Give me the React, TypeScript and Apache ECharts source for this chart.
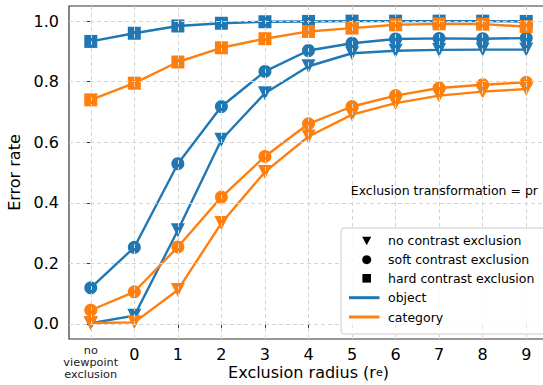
import React, { useEffect, useRef } from "react";
import * as echarts from "echarts";

const xLabels = ["no\nviewpoint\nexclusion", "0", "1", "2", "3", "4", "5", "6", "7", "8", "9"];
const yTicks = [0, 0.2, 0.4, 0.6, 0.8, 1.0];

const objectNo = [0.002, 0.027, 0.309, 0.608, 0.762, 0.851, 0.894, 0.902, 0.905, 0.906, 0.906];
const objectSoft = [0.119, 0.253, 0.529, 0.718, 0.834, 0.903, 0.927, 0.941, 0.943, 0.942, 0.944];
const objectHard = [0.933, 0.960, 0.984, 0.993, 0.998, 0.999, 1.0, 1.0, 1.0, 1.0, 0.999];
const categoryNo = [0.003, 0.005, 0.112, 0.333, 0.502, 0.619, 0.691, 0.729, 0.754, 0.767, 0.776];
const categorySoft = [0.045, 0.106, 0.254, 0.419, 0.553, 0.661, 0.718, 0.754, 0.779, 0.790, 0.798];
const categoryHard = [0.740, 0.795, 0.865, 0.912, 0.942, 0.966, 0.977, 0.988, 0.991, 0.990, 0.982];

const BLUE = "#1f77b4";
const ORANGE = "#ff7f0e";
const FONT = "DejaVu Sans";

const legendRows = [
  { kind: "tri", label: "no contrast exclusion" },
  { kind: "circ", label: "soft contrast exclusion" },
  { kind: "sq", label: "hard contrast exclusion" },
  { kind: "line", color: BLUE, label: "object" },
  { kind: "line", color: ORANGE, label: "category" },
];

function mkSeries(name: string, vals: number[], color: string, symbol: string) {
  const tri = symbol === "triangle";
  return {
    name,
    type: "line",
    data: vals.map((v, i) => [i, v]),
    symbol,
    symbolRotate: tri ? 180 : 0,
    symbolSize: tri ? 14 : 13,
    showAllSymbol: true,
    lineStyle: { color, width: 2.4 },
    itemStyle: { color, borderWidth: 0 },
    z: 3,
  };
}

export default function App() {
  const ref = useRef<HTMLDivElement>(null);
  useEffect(() => {
    if (!ref.current) return;
    const chart = echarts.init(ref.current, undefined, { renderer: "svg" });
    const xIdx = xLabels.map((_, i) => i);
    const gridLineStyle = { color: "#d4d4d4", type: [4, 3], width: 1 };
    const legendX = 341, legendY = 228;
    const rowY = [240.7, 259.7, 278.3, 297.7, 317];
    const mx = 366.7;
    const graphics: any[] = [
      {
        type: "rect",
        shape: { x: legendX, y: legendY, width: 220, height: 106, r: 3 },
        style: { fill: "rgba(255,255,255,0.85)", stroke: "#cccccc", lineWidth: 1 },
        z: 50,
      },
      {
        type: "text",
        x: 538,
        y: 190,
        style: {
          text: "Exclusion transformation = pr",
          fontFamily: FONT,
          fontSize: 12.5,
          fill: "#000",
          align: "right",
          verticalAlign: "middle",
        },
        z: 50,
      },
    ];
    legendRows.forEach((r, i) => {
      const y = rowY[i];
      if (r.kind === "tri") {
        graphics.push({ type: "polygon", shape: { points: [[mx - 4.5, y - 4], [mx + 4.5, y - 4], [mx, y + 4.5]] }, style: { fill: "#000" }, z: 51 });
      } else if (r.kind === "circ") {
        graphics.push({ type: "circle", shape: { cx: mx, cy: y, r: 4.5 }, style: { fill: "#000" }, z: 51 });
      } else if (r.kind === "sq") {
        graphics.push({ type: "rect", shape: { x: mx - 4.3, y: y - 4.3, width: 8.6, height: 8.6 }, style: { fill: "#000" }, z: 51 });
      } else {
        graphics.push({ type: "line", shape: { x1: 349, y1: y, x2: 379.5, y2: y }, style: { stroke: r.color, lineWidth: 3 }, z: 51 });
      }
      graphics.push({
        type: "text",
        x: 388,
        y,
        style: { text: r.label, fontFamily: FONT, fontSize: 12.5, fill: "#000", verticalAlign: "middle" },
        z: 51,
      });
    });

    chart.setOption({
      animation: false,
      backgroundColor: "#fff",
      textStyle: { fontFamily: FONT },
      grid: {
        left: 69,
        top: 6,
        width: 479,
        height: 333,
        outerBoundsMode: "none",
        containLabel: false,
        show: true,
        borderColor: "#333",
        borderWidth: 1.2,
        backgroundColor: "transparent",
      },
      xAxis: {
        type: "value",
        min: -0.5,
        max: 10.5,
        name: "{a|Exclusion radius (r}{b|e}{a|)}",
        nameLocation: "middle",
        nameGap: 27,
        nameMoveOverlap: false,
        nameTextStyle: {
          rich: {
            a: { fontFamily: FONT, fontSize: 16, lineHeight: 12, color: "#000" },
            b: { fontFamily: FONT, fontSize: 11, lineHeight: 4, color: "#000", verticalAlign: "bottom" },
          },
        },
        axisLine: { show: false },
        axisTick: { show: true, customValues: xIdx, length: 4, lineStyle: { color: "#333", width: 1 } },
        splitLine: { show: false },
        axisLabel: {
          customValues: xIdx,
          margin: 5,
          formatter: (v: number) => {
            const lab = xLabels[Math.round(v)];
            return Math.round(v) === 0 ? "{s|" + lab + "}" : "{d|" + lab + "}";
          },
          rich: {
            s: { fontFamily: FONT, fontSize: 11.3, lineHeight: 12, color: "#222" },
            d: { fontFamily: FONT, fontSize: 16, lineHeight: 12, color: "#000", padding: [9, 0, 0, 0] },
          },
        },
      },
      yAxis: {
        type: "value",
        min: -0.05,
        max: 1.05,
        name: "Error rate",
        nameLocation: "middle",
        nameGap: 46,
        nameTextStyle: { fontFamily: FONT, fontSize: 16, color: "#000" },
        axisLine: { show: false },
        axisTick: { show: true, customValues: yTicks, length: 4, lineStyle: { color: "#333", width: 1 } },
        splitLine: { show: false },
        axisLabel: {
          customValues: yTicks,
          margin: 10,
          fontFamily: FONT,
          fontSize: 16,
          color: "#000",
          formatter: (v: number) => v.toFixed(1),
        },
      },
      graphic: graphics,
      series: [
        {
          type: "scatter",
          data: [],
          silent: true,
          z: 1,
          markLine: {
            silent: true,
            symbol: "none",
            label: { show: false },
            lineStyle: gridLineStyle,
            data: [
              ...xIdx.map((i) => ({ xAxis: i })),
              ...yTicks.map((v) => ({ yAxis: v })),
            ],
          },
        },
        mkSeries("object no", objectNo, BLUE, "triangle"),
        mkSeries("object soft", objectSoft, BLUE, "circle"),
        mkSeries("object hard", objectHard, BLUE, "rect"),
        mkSeries("category no", categoryNo, ORANGE, "triangle"),
        mkSeries("category soft", categorySoft, ORANGE, "circle"),
        mkSeries("category hard", categoryHard, ORANGE, "rect"),
      ],
    });
    return () => chart.dispose();
  }, []);
  return <div ref={ref} style={{ position: "fixed", left: 0, top: 0, width: 543, height: 385 }} />;
}
